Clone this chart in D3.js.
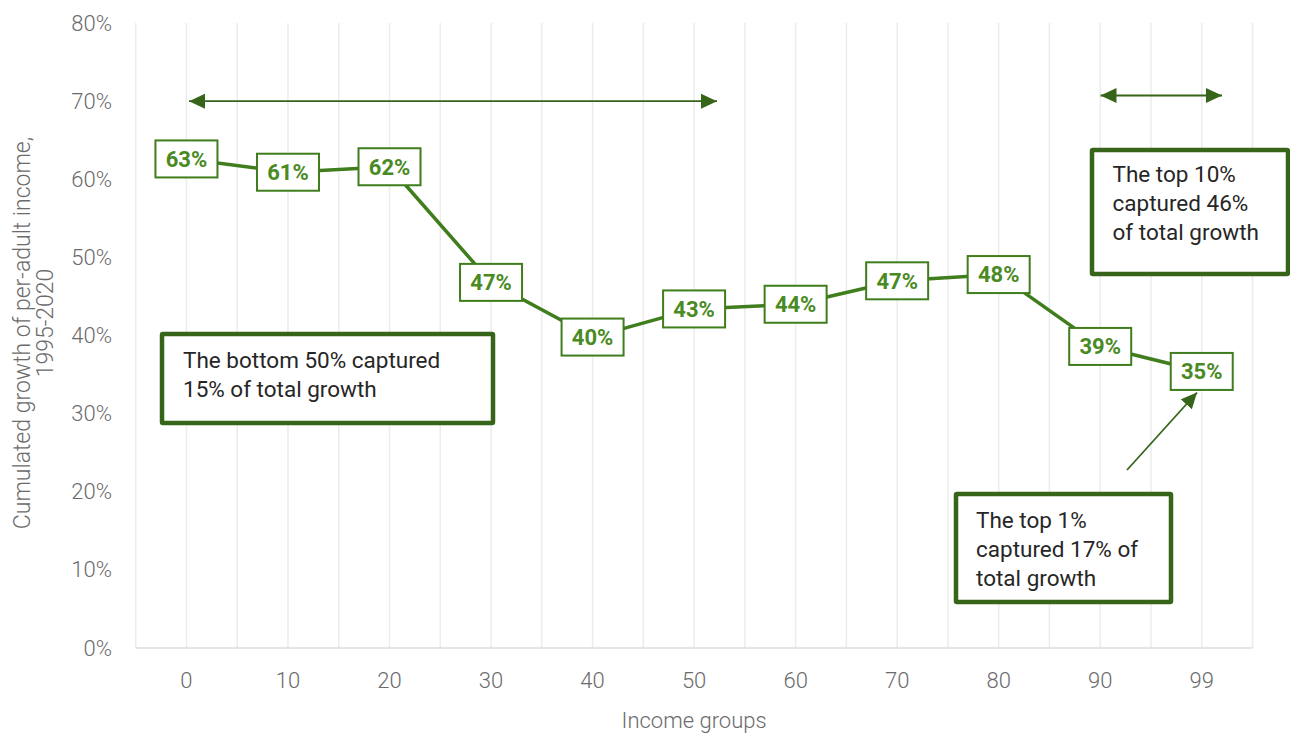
<!DOCTYPE html>
<html>
<head>
<meta charset="utf-8">
<script src="https://cdn.jsdelivr.net/npm/d3@7"></script>
<style>
  html, body { margin: 0; padding: 0; background: #fff; }
  svg { display: block; font-family: Roboto, "Noto Sans", sans-serif; }
</style>
</head>
<body>
<svg id="chart" width="1290" height="736"></svg>
<script>
// ---- data ----
const categories = ["0", "10", "20", "30", "40", "50", "60", "70", "80", "90", "99"];
const growth = [62.6, 60.9, 61.6, 46.8, 39.8, 43.4, 44.0, 47.0, 47.8, 38.6, 35.4];
const growthLabels = ["63%", "61%", "62%", "47%", "40%", "43%", "44%", "47%", "48%", "39%", "35%"];
const yTicks = [0, 10, 20, 30, 40, 50, 60, 70, 80];
const notes = [
  ["The bottom 50% captured", "15% of total growth"],
  ["The top 10%", "captured 46%", "of total growth"],
  ["The top 1%", "captured 17% of", "total growth"]
];
const yTitle = ["Cumulated growth of per-adult income,", "1995-2020"];
const xTitle = "Income groups";

// ---- layout ----
const plotL = 135.7, plotR = 1252.5, plotT = 23, plotB = 648;
const green = "#3f7d1d", labelGreen = "#4a8a23", boxGreen = "#36651a";

const svg = d3.select("#chart");

const x = d3.scaleBand().domain(categories).range([plotL, plotR]).padding(0);
const y = d3.scaleLinear().domain([0, 80]).range([plotB, plotT]);

const defs = svg.append("defs");
defs.append("marker").attr("id", "ah")
  .attr("viewBox", "0 0 16 16").attr("refX", 16).attr("refY", 8)
  .attr("markerWidth", 16).attr("markerHeight", 16)
  .attr("markerUnits", "userSpaceOnUse")
  .attr("orient", "auto-start-reverse")
  .append("path").attr("d", "M0,0.5 L16,8 L0,15.5 Z").attr("fill", boxGreen);

// vertical gridlines (band edges and centres)
const gridX = [];
categories.forEach(c => { gridX.push(x(c)); gridX.push(x(c) + x.bandwidth() / 2); });
gridX.push(plotR);
svg.append("g").selectAll("line").data(gridX).join("line")
  .attr("x1", d => d).attr("x2", d => d)
  .attr("y1", plotT).attr("y2", plotB)
  .attr("stroke", "#ececec").attr("stroke-width", 1.5);

// x axis line
svg.append("line").attr("x1", plotL).attr("x2", plotR)
  .attr("y1", plotB).attr("y2", plotB)
  .attr("stroke", "#dcdcdc").attr("stroke-width", 1.5);

// y axis
const yAxis = d3.axisLeft(y).tickValues(yTicks).tickFormat(d => d + "%").tickSize(0).tickPadding(0);
const yg = svg.append("g").attr("transform", `translate(${112},0)`).call(yAxis);
yg.select(".domain").remove();
yg.selectAll("text").attr("font-size", 22).attr("font-weight", 300)
  .attr("fill", "#6b6b6b").attr("font-family", "Roboto");

// x axis
const xAxis = d3.axisBottom(x).tickSize(0).tickPadding(0);
const xg = svg.append("g").attr("transform", `translate(0,${672})`).call(xAxis);
xg.select(".domain").remove();
xg.selectAll("text").attr("font-size", 22).attr("font-weight", 300)
  .attr("fill", "#6b6b6b").attr("font-family", "Roboto");

// axis titles
svg.append("text").attr("x", (plotL + plotR) / 2).attr("y", 728)
  .attr("text-anchor", "middle").attr("font-size", 22).attr("font-weight", 300)
  .attr("fill", "#6b6b6b").text(xTitle);
const yTitlePos = [[30, 333], [53, 323]];
yTitle.forEach((t, i) => {
  svg.append("text")
    .attr("transform", `translate(${yTitlePos[i][0]},${yTitlePos[i][1]}) rotate(-90)`)
    .attr("text-anchor", "middle").attr("font-size", 23).attr("font-weight", 300)
    .attr("fill", "#6b6b6b").text(t);
});

// line
const cx = c => x(c) + x.bandwidth() / 2;
svg.append("path")
  .datum(categories.map((c, i) => [cx(c), y(growth[i])]))
  .attr("d", d3.line())
  .attr("fill", "none").attr("stroke", green).attr("stroke-width", 3.5)
  .attr("stroke-linejoin", "round");

// data label boxes
const lg = svg.append("g").selectAll("g").data(categories).join("g")
  .attr("transform", (c, i) => `translate(${cx(c)},${y(growth[i])})`);
lg.append("rect").attr("x", -31).attr("y", -18.5).attr("width", 62).attr("height", 37)
  .attr("fill", "#fff").attr("stroke", green).attr("stroke-width", 2);
lg.append("text").attr("text-anchor", "middle").attr("dy", "0.36em")
  .attr("font-size", 22).attr("font-weight", 700).attr("fill", labelGreen)
  .text((c, i) => growthLabels[i]);

// arrows
svg.append("line").attr("x1", 189).attr("y1", y(70)).attr("x2", 717).attr("y2", y(70))
  .attr("stroke", boxGreen).attr("stroke-width", 1.8)
  .attr("marker-start", "url(#ah)").attr("marker-end", "url(#ah)");
svg.append("line").attr("x1", 1100.5).attr("y1", 95.5).attr("x2", 1222).attr("y2", 95.5)
  .attr("stroke", boxGreen).attr("stroke-width", 1.8)
  .attr("marker-start", "url(#ah)").attr("marker-end", "url(#ah)");
svg.append("line").attr("x1", 1127).attr("y1", 470).attr("x2", 1197).attr("y2", 392.5)
  .attr("stroke", boxGreen).attr("stroke-width", 1.8)
  .attr("marker-end", "url(#ah)");

// annotation boxes
const boxes = [
  { x: 162, y: 334, w: 331, h: 89, tx: 183, ty: 368, lines: notes[0] },
  { x: 1092, y: 150, w: 196, h: 124, tx: 1112.5, ty: 182, lines: notes[1] },
  { x: 956, y: 494, w: 215, h: 108, tx: 976, ty: 527.5, lines: notes[2] }
];
boxes.forEach(b => {
  svg.append("rect").attr("x", b.x).attr("y", b.y).attr("width", b.w).attr("height", b.h)
    .attr("fill", "#fff").attr("stroke", boxGreen).attr("stroke-width", 4.5).attr("rx", 1);
  const t = svg.append("text").attr("font-size", 22.5).attr("font-weight", 400).attr("fill", "#262626");
  b.lines.forEach((l, i) => t.append("tspan").attr("x", b.tx).attr("y", b.ty + i * 29).text(l));
});
</script>
</body>
</html>
